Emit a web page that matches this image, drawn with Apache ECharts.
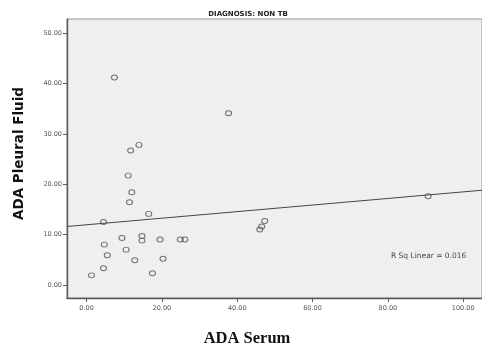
<!DOCTYPE html>
<html><head><meta charset="utf-8">
<script src="https://cdn.jsdelivr.net/npm/echarts@6/dist/echarts.min.js"></script>
<style>html,body{margin:0;padding:0;background:#fff}#c{width:482px;height:347px}</style>
</head><body><div id="c"></div>
<script>
const serum = [1.3, 4.5, 5.5, 4.7, 4.5, 9.4, 10.5, 12.8, 11.4, 12.0, 11.05, 11.7, 13.9, 7.4, 37.7, 14.7, 14.7, 16.5, 17.5, 19.5, 20.3, 24.9, 26.1, 46.0, 46.5, 47.3, 90.7];
const pleural = [1.9, 3.3, 5.9, 8.0, 12.5, 9.3, 7.0, 4.9, 16.4, 18.4, 21.7, 26.7, 27.8, 41.2, 34.1, 9.7, 8.8, 14.1, 2.3, 9.0, 5.2, 9.0, 9.0, 11.0, 11.6, 12.7, 17.6];
const fitX = [-5.2, 105];
const fitY = [11.6, 18.8];
const xTicks = [0, 20, 40, 60, 80, 100];
const yTicks = [0, 10, 20, 30, 40, 50];
const titleText = 'DIAGNOSIS: NON TB';
const xTitle = 'ADA Serum';
const yTitle = 'ADA Pleural Fluid';
const rsqText = 'R Sq Linear = 0.016';

const chart = echarts.init(document.getElementById('c'));
const axisCol = '#5a5a5a';
chart.setOption({
  animation: false,
  backgroundColor: '#fff',
  grid: {left: 67, top: 19, right: 0, bottom: 49, show: true, backgroundColor: '#efefef', borderColor: '#999', borderWidth: 1},
  xAxis: {type: 'value', min: -5.2, max: 105,
    splitLine: {show: false},
    axisLine: {show: true, onZero: false, lineStyle: {color: axisCol, width: 1.4}},
    axisTick: {show: true, customValues: xTicks, length: 4, lineStyle: {color: axisCol}},
    axisLabel: {customValues: xTicks, formatter: v => v.toFixed(2), fontFamily: 'DejaVu Sans', fontSize: 6.5, color: '#555', margin: 7}
  },
  yAxis: {type: 'value', min: -2.6, max: 52.8,
    splitLine: {show: false},
    axisLine: {show: true, onZero: false, lineStyle: {color: axisCol, width: 1.4}},
    axisTick: {show: true, customValues: yTicks, length: 4, lineStyle: {color: axisCol}},
    axisLabel: {customValues: yTicks, formatter: v => v.toFixed(2), fontFamily: 'DejaVu Sans', fontSize: 6.5, color: '#555', margin: 5}
  },
  series: [
    {type: 'line', data: fitX.map((x, i) => [x, fitY[i]]), symbol: 'none', silent: true,
      lineStyle: {color: '#444', width: 1}, z: 2},
    {type: 'scatter', data: serum.map((x, i) => [x, pleural[i]]), symbol: 'circle', symbolSize: [6, 5],
      itemStyle: {color: 'rgba(0,0,0,0)', borderColor: '#555', borderWidth: 1}, z: 3}
  ],
  graphic: [
    {type: 'text', x: 248, y: 14, style: {text: titleText, align: 'center', verticalAlign: 'middle', fontFamily: 'DejaVu Sans', fontSize: 7, fontWeight: 'bold', fill: '#222'}},
    {type: 'text', x: 19.5, y: 153.5, rotation: Math.PI / 2, style: {text: yTitle, align: 'center', verticalAlign: 'middle', fontFamily: 'DejaVu Sans', fontSize: 13.5, fontWeight: 'bold', fill: '#111'}},
    {type: 'text', x: 247, y: 339, style: {text: xTitle, align: 'center', verticalAlign: 'middle', fontFamily: 'Liberation Serif', fontSize: 16.5, fontWeight: 'bold', fill: '#111'}},
    {type: 'text', x: 391, y: 256, style: {text: rsqText, verticalAlign: 'middle', fontFamily: 'DejaVu Sans', fontSize: 7.5, fill: '#444'}}
  ]
});
</script></body></html>
